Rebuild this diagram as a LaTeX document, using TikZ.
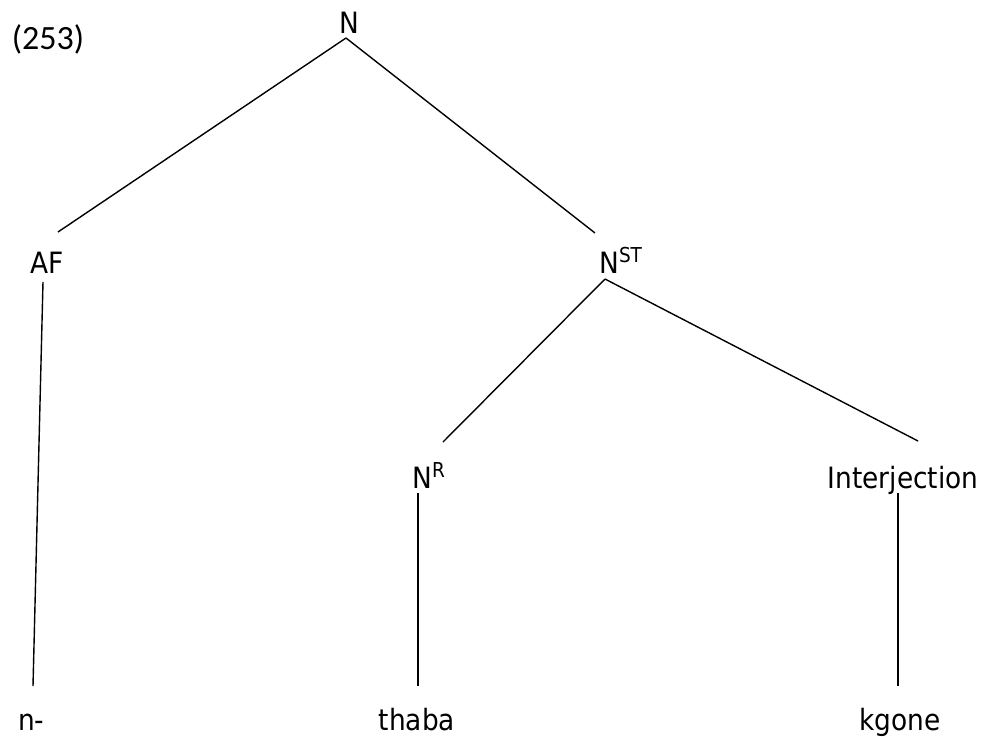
\documentclass[tikz,border=0pt]{standalone}
\usepackage{fontspec}
\setmainfont{DejaVu Sans Condensed}
\newfontfamily\numfont{Carlito}
\begin{document}
\begin{tikzpicture}[x=0.75pt,y=-0.75pt,
  lab/.style={anchor=base,inner sep=0pt,font=\fontsize{22}{26}\selectfont},
  edge/.style={line width=1.05pt,black}]
\useasboundingbox (0,0) rectangle (986,736);
\node[anchor=base,inner sep=0pt,font=\numfont\fontsize{25.5}{30}\selectfont] (num) at (48,49) {(253)};
\node[lab] (N) at (349,33) {N};
\node[lab] (AF) at (47,273) {AF};
\node[lab,anchor=base west] (NST) at (599,273) {N\textsuperscript{ST}};
\node[lab,anchor=base west] (NR) at (412,488) {N\textsuperscript{R}};
\node[lab] (IJ) at (903,488) {Interjection};
\node[lab,anchor=base west] (n) at (18,730) {n-};
\node[lab] (thaba) at (417,730) {thaba};
\node[lab] (kgone) at (900,730) {kgone};
% attachment points
\coordinate (Nb) at (346,38);
\coordinate (AFt) at (58,232);
\coordinate (AFb) at (43,282);
\coordinate (NSTt) at (595,233);
\coordinate (NSTb) at (605,279);
\coordinate (NRt) at (443,442);
\coordinate (NRb) at (418,493);
\coordinate (IJt) at (918,441);
\coordinate (IJb) at (898,493);
\coordinate (nt) at (33,686);
\coordinate (thabat) at (418,686);
\coordinate (kgonet) at (898,686);
\draw[edge] (Nb) -- (AFt);
\draw[edge] (Nb) -- (NSTt);
\draw[edge] (AFb) -- (nt);
\draw[edge] (NSTb) -- (NRt);
\draw[edge] (NSTb) -- (IJt);
\draw[edge] (NRb) -- (thabat);
\draw[edge] (IJb) -- (kgonet);
\end{tikzpicture}
\end{document}
